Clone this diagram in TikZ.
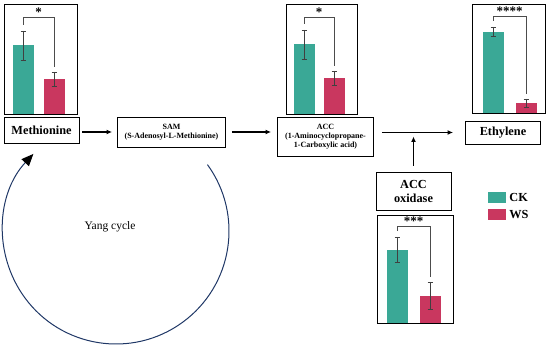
\documentclass[tikz,border=0pt]{standalone}
\usepackage{fontspec}
\setmainfont{Liberation Serif}
\usetikzlibrary{arrows.meta,positioning}
\definecolor{ckcol}{HTML}{3AA896}
\definecolor{wscol}{HTML}{C9375F}
\definecolor{cyclecol}{HTML}{1F3766}
\begin{document}
\begin{tikzpicture}[
    x=1pt,
    y=-1pt,
    namebox/.style={draw, line width=0.9pt, inner sep=0pt, align=center,
      font=\fontsize{12.3}{14}\selectfont\bfseries},
    smallbox/.style={draw, line width=0.9pt, inner sep=0pt, align=center,
      font=\fontsize{8}{8.8}\selectfont\bfseries},
    flow/.style={-{Latex[length=5.5pt,width=5pt]}, line width=1.3pt},
    errbar/.style={black!75, line width=0.5pt}
]
\useasboundingbox (0,0) rectangle (550,350);

% bar charts: box, CK bar, WS bar, error bars, bracket, stars
\foreach \bxl/\byt/\bxr/\byb/\ck/\ws/\ckt/\wst/\cka/\ckb/\wsa/\wsb/\brk/\sig in {
    4/4/77/114/23/54/45/79/31/60/72/86/17/{*},
    286/4/357/114/304/334/44/78/30/59/71/85/17/{*},
    472/4/545/113/493/526/32/103/27/36/99/107/16/{****},
    377/215/453/323/397/430/250/296/237/262/282/309/226/{***}
  }{
    \draw[line width=0.9pt] (\bxl,\byt) rectangle (\bxr,\byb);
    \fill[ckcol] (\ck-10.5,\byb) rectangle (\ck+10.5,\ckt);
    \fill[wscol] (\ws-10.5,\byb) rectangle (\ws+10.5,\wst);
    \draw[errbar] (\ck,\cka) -- (\ck,\ckb)
      (\ck-2.5,\cka) -- (\ck+2.5,\cka) (\ck-2.5,\ckb) -- (\ck+2.5,\ckb);
    \draw[errbar] (\ws,\wsa) -- (\ws,\wsb)
      (\ws-2.5,\wsa) -- (\ws+2.5,\wsa) (\ws-2.5,\wsb) -- (\ws+2.5,\wsb);
    \draw[black!70, line width=0.7pt]
      (\ck,\cka-6) -- (\ck,\brk) -- (\ws,\brk) -- (\ws,\wsa-5);
    \node[anchor=base, inner sep=0pt, font=\fontsize{13}{13}\selectfont\bfseries]
      at ({(\ck+\ws)/2},\brk) {\sig};
  }

\node[namebox, minimum width=75pt, minimum height=26pt] (met) at (41.5,130) {Methionine};
\node[smallbox, minimum width=108pt, minimum height=30pt] (sam) at (171.5,132)
  {SAM\\(S-Adenosyl-L-Methionine)};
\node[smallbox, minimum width=96pt, minimum height=39pt] (acc) at (325.5,136.5)
  {ACC\\(1-Aminocyclopropane-\\1-Carboxylic acid)};
\node[namebox, minimum width=75pt, minimum height=23pt] (eth) at (503,132.5) {Ethylene};
\node[namebox, minimum width=75pt, minimum height=38pt] (oxi) at (413.5,191) {ACC\\oxidase};
\coordinate (join) at (oxi.north |- eth.west);

\draw[flow, shorten <=3pt, shorten >=5pt] (met.east |- sam.west) -- (sam.west);
\draw[flow, shorten <=6pt, shorten >=6pt] (sam.east) -- (acc.west |- sam.east);
\draw[flow, shorten <=8pt, shorten >=12pt] (acc.east |- eth.west) -- (eth.west);
\draw[flow, shorten <=6pt, shorten >=4pt] (oxi.north) -- (join);

% Yang cycle
\draw[cyclecol, line width=1pt, -{Triangle[length=12pt,width=10pt,color=black]}]
  (116,231) ++(-36:113) arc[start angle=-36, end angle=223, radius=113];
\node[font=\fontsize{11.5}{13}\selectfont] (yang) at (110,227) {Yang cycle};

% legend
\node[fill=ckcol, minimum width=18pt, minimum height=11pt, inner sep=0pt] (lgck) at (497,197.5) {};
\node[fill=wscol, minimum width=18pt, minimum height=11pt, inner sep=0pt] (lgws) at (497,214.5) {};
\node[right=3pt of lgck, inner sep=0pt, font=\fontsize{12.3}{14}\selectfont\bfseries] (ck) {CK};
\node[right=3pt of lgws, inner sep=0pt, font=\fontsize{12.3}{14}\selectfont\bfseries] (ws) {WS};
\end{tikzpicture}
\end{document}
